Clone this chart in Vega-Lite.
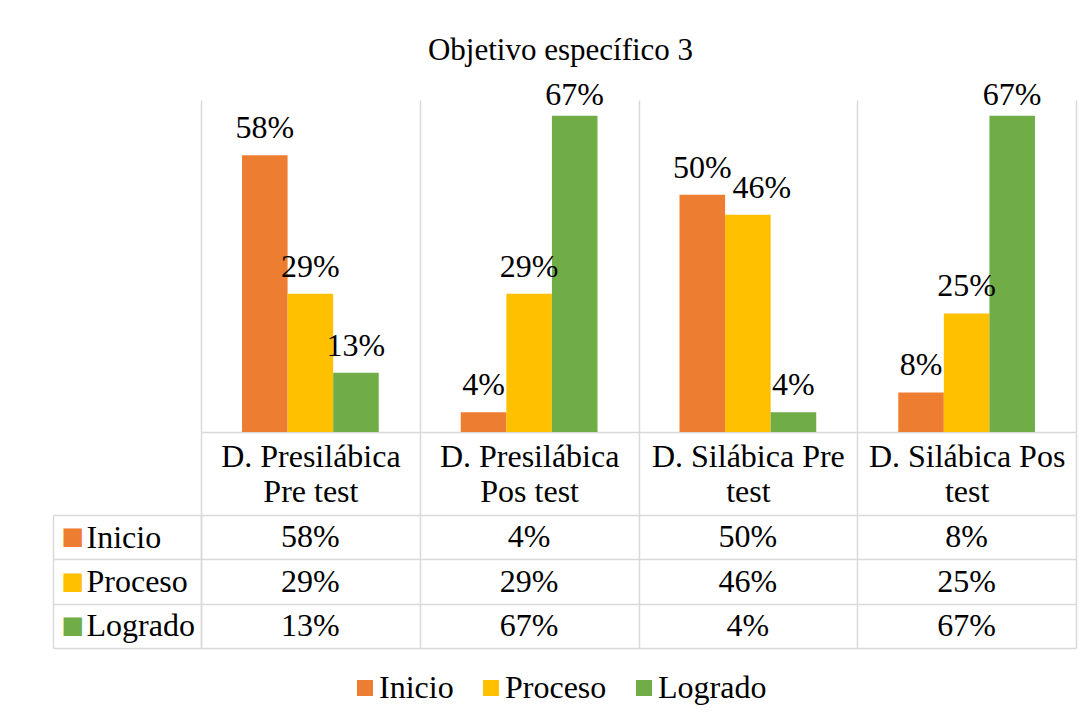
{
  "$schema": "https://vega.github.io/schema/vega-lite/v6.json",
  "background": "white",
  "padding": {"left": 52, "top": 34, "right": 10, "bottom": 5},
  "title": {"text": "Objetivo específico 3", "anchor": "middle", "frame": "bounds", "font": "Liberation Serif", "fontSize": 31, "fontWeight": "normal", "color": "#000000", "offset": 12, "dx": -4},
  "config": {"view": {"stroke": null}, "font": "Liberation Serif"},
  "datasets": {
    "d": [
      {"category": "D. Presilábica Pre test", "series": "Inicio", "value": 0.5833},
      {"category": "D. Presilábica Pre test", "series": "Proceso", "value": 0.2917},
      {"category": "D. Presilábica Pre test", "series": "Logrado", "value": 0.125},
      {"category": "D. Presilábica Pos test", "series": "Inicio", "value": 0.0417},
      {"category": "D. Presilábica Pos test", "series": "Proceso", "value": 0.2917},
      {"category": "D. Presilábica Pos test", "series": "Logrado", "value": 0.6667},
      {"category": "D. Silábica Pre test", "series": "Inicio", "value": 0.5},
      {"category": "D. Silábica Pre test", "series": "Proceso", "value": 0.4583},
      {"category": "D. Silábica Pre test", "series": "Logrado", "value": 0.0417},
      {"category": "D. Silábica Pos test", "series": "Inicio", "value": 0.0833},
      {"category": "D. Silábica Pos test", "series": "Proceso", "value": 0.25},
      {"category": "D. Silábica Pos test", "series": "Logrado", "value": 0.6667}
    ]
  },
  "bounds": "flush",
  "spacing": 83,
  "vconcat": [
    {
      "width": 875,
      "height": 332,
      "data": {"name": "d"},
      "encoding": {
        "x": {
          "field": "category", "type": "nominal",
          "sort": ["D. Presilábica Pre test", "D. Presilábica Pos test", "D. Silábica Pre test", "D. Silábica Pos test"],
          "scale": {"paddingInner": 0, "paddingOuter": 0},
          "axis": {
            "title": null, "orient": "bottom",
            "domain": true, "domainColor": "#D9D9D9", "domainWidth": 1.5,
            "ticks": true, "tickBand": "extent", "tickSize": 83, "tickColor": "#D9D9D9", "tickWidth": 1.5,
            "grid": true, "gridColor": "#D9D9D9", "gridWidth": 1.5,
            "labelAngle": 0, "labelFont": "Liberation Serif", "labelFontSize": 32, "labelColor": "#000000",
            "labelBaseline": "top", "labelLineHeight": 35, "labelPadding": -74, "labelLimit": 0,
            "labelExpr": "indexof(datum.label, 'Presilábica') >= 0 ? [substring(datum.label, 0, 14), substring(datum.label, 15)] : [substring(datum.label, 0, 15), substring(datum.label, 16)]"
          }
        },
        "xOffset": {"field": "series", "type": "nominal", "sort": ["Inicio", "Proceso", "Logrado"], "scale": {"paddingInner": 0, "paddingOuter": 0.9}},
        "y": {"field": "value", "type": "quantitative", "scale": {"domain": [0, 0.7]}, "axis": null}
      },
      "layer": [
        {
          "mark": {"type": "bar"},
          "encoding": {
            "color": {
              "field": "series", "type": "nominal",
              "scale": {"domain": ["Inicio", "Proceso", "Logrado"], "range": ["#ED7D31", "#FFC000", "#70AD47"]},
              "legend": {
                "orient": "none", "legendX": 148, "legendY": 572, "direction": "horizontal", "title": null,
                "symbolType": "square", "symbolSize": 256, "symbolStrokeWidth": 0,
                "labelFont": "Liberation Serif", "labelFontSize": 32, "labelColor": "#000000",
                "labelOffset": -2, "columnPadding": 21, "labelLimit": 0
              }
            }
          }
        },
        {
          "mark": {
            "type": "text", "baseline": "alphabetic", "fontSize": 32, "font": "Liberation Serif", "color": "#000000",
            "dy": {"expr": "datum.value > 0.65 ? -11 : -17"},
            "dx": {"expr": "datum.series === 'Proceso' && datum.category === 'D. Silábica Pre test' ? 14 : 0"}
          },
          "encoding": {"text": {"field": "value", "type": "quantitative", "format": ".0%"}}
        }
      ]
    },
    {
      "width": 875,
      "height": 133,
      "data": {"name": "d"},
      "encoding": {
        "x": {
          "field": "category", "type": "nominal",
          "sort": ["D. Presilábica Pre test", "D. Presilábica Pos test", "D. Silábica Pre test", "D. Silábica Pos test"],
          "scale": {"paddingInner": 0, "paddingOuter": 0},
          "axis": {"title": null, "labels": false, "ticks": false, "domain": false, "grid": true, "tickBand": "extent", "gridColor": "#D9D9D9", "gridWidth": 1.5}
        }
      },
      "layer": [
        {
          "mark": {"type": "text", "fontSize": 32, "font": "Liberation Serif", "color": "#000000"},
          "encoding": {
            "text": {"field": "value", "type": "quantitative", "format": ".0%"},
            "y": {
              "field": "series", "type": "nominal", "sort": ["Inicio", "Proceso", "Logrado"],
              "scale": {"paddingInner": 0, "paddingOuter": 0},
              "axis": {
                "title": null, "orient": "left",
                "domain": true, "domainColor": "#D9D9D9", "domainWidth": 1.5,
                "ticks": true, "tickBand": "extent", "tickSize": 148, "tickColor": "#D9D9D9", "tickWidth": 1.5,
                "grid": true, "gridColor": "#D9D9D9", "gridWidth": 1.5,
                "labelAlign": "left", "labelPadding": -33, "labelFont": "Liberation Serif", "labelFontSize": 32,
                "labelColor": "#000000", "labelBaseline": "middle", "labelLimit": 0
              }
            }
          }
        },
        {
          "mark": {"type": "text", "opacity": 0, "fontSize": 32},
          "encoding": {
            "text": {"field": "value", "type": "quantitative", "format": ".0%"},
            "y": {
              "field": "series", "type": "nominal", "sort": ["Inicio", "Proceso", "Logrado"],
              "scale": {"paddingInner": 0, "paddingOuter": 0},
              "axis": {
                "title": null, "orient": "left", "offset": 148,
                "domain": true, "domainColor": "#D9D9D9", "domainWidth": 1.5,
                "ticks": false, "grid": false,
                "labelExpr": "'■'", "labelFont": "DejaVu Sans", "labelFontSize": 24,
                "labelAlign": "left", "labelPadding": -8, "labelBaseline": "middle", "labelLimit": 0,
                "labelColor": {"condition": [{"test": "datum.value === 'Inicio'", "value": "#ED7D31"}, {"test": "datum.value === 'Proceso'", "value": "#FFC000"}], "value": "#70AD47"}
              }
            }
          }
        }
      ],
      "resolve": {"axis": {"y": "independent"}}
    }
  ]
}
